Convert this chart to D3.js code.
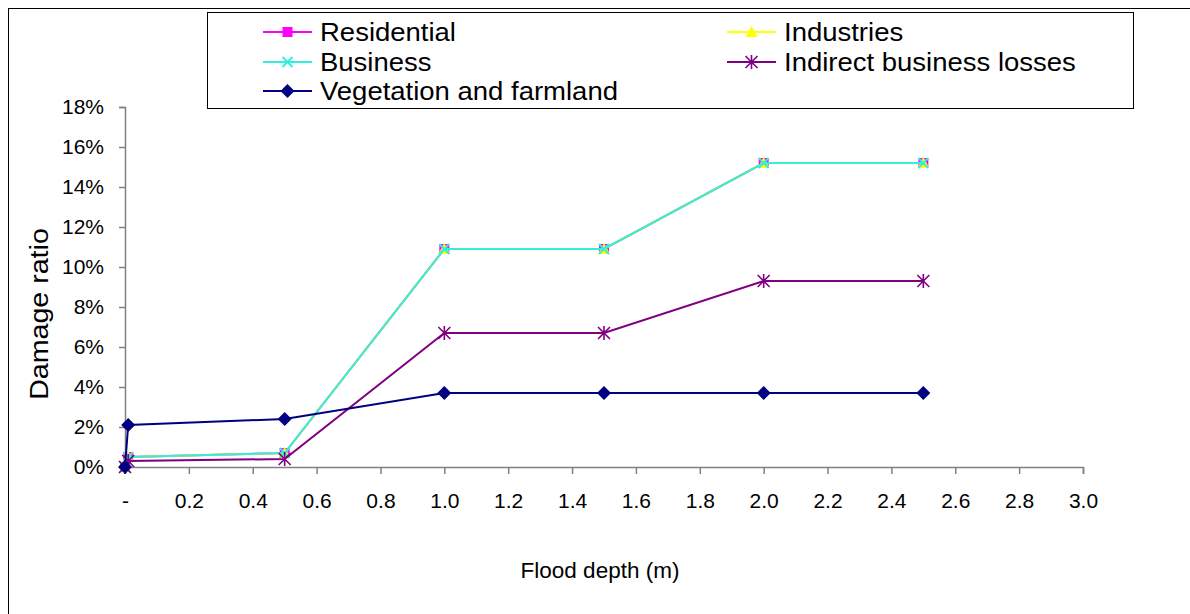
<!DOCTYPE html>
<html><head><meta charset="utf-8">
<script src="https://cdn.jsdelivr.net/npm/d3@7"></script>
<style>body{margin:0;background:#fff}svg{display:block;font-family:"Liberation Sans",Arial,sans-serif}</style>
</head><body><svg id="c" width="1190" height="614"></svg>
<script>
const depth = [0, 0.01, 0.5, 1.0, 1.5, 2.0, 2.5];
const residential = [0, 0.005, 0.007, 0.109, 0.109, 0.152, 0.152];
const industries = [0, 0.005, 0.007, 0.109, 0.109, 0.152, 0.152];
const business = [0, 0.005, 0.007, 0.109, 0.109, 0.152, 0.152];
const indirect = [0, 0.003, 0.004, 0.067, 0.067, 0.093, 0.093];
const vegetation = [0, 0.021, 0.024, 0.037, 0.037, 0.037, 0.037];
const xTicks = [0, 0.2, 0.4, 0.6, 0.8, 1.0, 1.2, 1.4, 1.6, 1.8, 2.0, 2.2, 2.4, 2.6, 2.8, 3.0];
const yTicks = [0, 0.02, 0.04, 0.06, 0.08, 0.10, 0.12, 0.14, 0.16, 0.18];
const seriesNames = ["Residential", "Industries", "Business", "Indirect business losses", "Vegetation and farmland"];

const series = [
  {name: seriesNames[0], values: residential, color: "#ff00ff", marker: "square"},
  {name: seriesNames[1], values: industries, color: "#ffff00", marker: "triangle"},
  {name: seriesNames[2], values: business, color: "#33eedd", marker: "x"},
  {name: seriesNames[3], values: indirect, color: "#800080", marker: "star"},
  {name: seriesNames[4], values: vegetation, color: "#000080", marker: "diamond"}
];

const svg = d3.select("#c");
svg.append("rect").attr("x", 8.5).attr("y", 8.5).attr("width", 1200).attr("height", 700)
  .attr("fill", "none").attr("stroke", "#000").attr("stroke-width", 1);

const x = d3.scaleLinear().domain([0, 3]).range([125, 1083]);
const y = d3.scaleLinear().domain([0, 0.18]).range([467, 107]);

const xAxis = d3.axisBottom(x).tickValues(xTicks).tickSize(7).tickPadding(19)
  .tickFormat(d => d === 0 ? "-" : d3.format(".1f")(d));
const gx = svg.append("g").attr("transform", "translate(0,467)").call(xAxis);
const yAxis = d3.axisLeft(y).tickValues(yTicks).tickSize(6).tickPadding(15)
  .tickFormat(d3.format(".0%"));
const gy = svg.append("g").attr("transform", "translate(125,0)").call(yAxis);
[gx, gy].forEach(g => {
  g.select(".domain").attr("stroke", "#808080").attr("stroke-width", 1.5);
  g.selectAll(".tick line").attr("stroke", "#808080").attr("stroke-width", 1.5);
  g.selectAll(".tick text").attr("fill", "#000").style("font-size", "21px").style("font-family", "Liberation Sans, Arial, sans-serif");
});
gx.selectAll(".tick text").attr("dy", "0.71em");

svg.append("text").attr("x", 600).attr("y", 578).attr("text-anchor", "middle")
  .style("font-size", "22.5px").text("Flood depth (m)");
svg.append("text").attr("transform", "translate(48,314) rotate(-90) scale(1.1,1)").attr("text-anchor", "middle")
  .style("font-size", "26px").text("Damage ratio");

function drawMarker(g, type, color, cx, cy) {
  if (type === "square") {
    g.append("rect").attr("x", cx - 5).attr("y", cy - 5).attr("width", 10).attr("height", 10).attr("fill", color);
  } else if (type === "triangle") {
    g.append("path").attr("d", `M${cx},${cy-6}L${cx+6},${cy+5}L${cx-6},${cy+5}Z`).attr("fill", color);
  } else if (type === "x") {
    g.append("path").attr("d", `M${cx-5},${cy-5}L${cx+5},${cy+5}M${cx+5},${cy-5}L${cx-5},${cy+5}`)
      .attr("stroke", color).attr("stroke-width", 2);
  } else if (type === "star") {
    g.append("path").attr("d", `M${cx-6},${cy-6}L${cx+6},${cy+6}M${cx+6},${cy-6}L${cx-6},${cy+6}M${cx},${cy-7}L${cx},${cy+7}`)
      .attr("stroke", color).attr("stroke-width", 1.6);
  } else if (type === "diamond") {
    g.append("path").attr("d", `M${cx},${cy-7}L${cx+7},${cy}L${cx},${cy+7}L${cx-7},${cy}Z`).attr("fill", color);
  }
}

const line = d3.line().x((d, i) => x(depth[i])).y(d => y(d));
series.forEach(s => {
  const g = svg.append("g");
  g.append("path").attr("d", line(s.values)).attr("fill", "none").attr("stroke", s.color).attr("stroke-width", 2);
  s.values.forEach((v, i) => drawMarker(g, s.marker, s.color, x(depth[i]), y(v)));
});

const lg = svg.append("g");
lg.append("rect").attr("x", 207.5).attr("y", 12.5).attr("width", 926).attr("height", 96)
  .attr("fill", "#fff").attr("stroke", "#000").attr("stroke-width", 1);
const legendPos = [
  {x: 263, y: 32}, {x: 727, y: 32}, {x: 263, y: 62}, {x: 727, y: 62}, {x: 263, y: 91}
];
series.forEach((s, i) => {
  const p = legendPos[i];
  lg.append("line").attr("x1", p.x).attr("x2", p.x + 49).attr("y1", p.y).attr("y2", p.y)
    .attr("stroke", s.color).attr("stroke-width", 2);
  drawMarker(lg, s.marker, s.color, p.x + 24.5, p.y);
  lg.append("text").attr("transform", `translate(${p.x + 57},${p.y + 9}) scale(1.1,1)`)
    .style("font-size", "25px").text(s.name);
});
</script></body></html>
